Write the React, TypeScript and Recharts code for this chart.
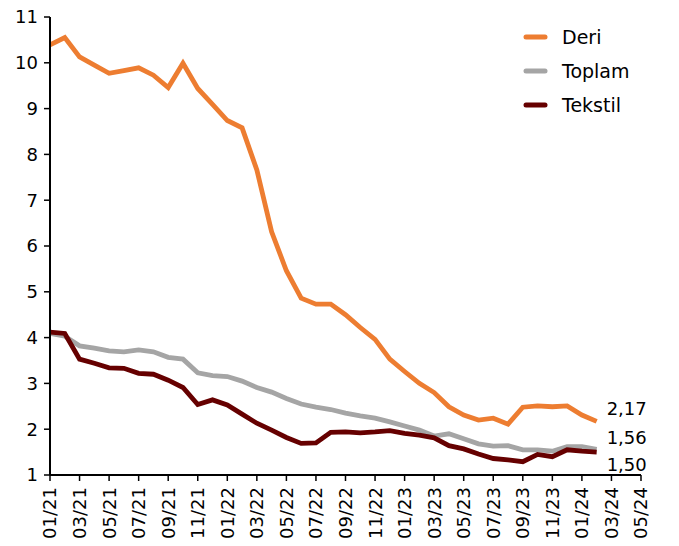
import React from "react";
import { LineChart, Line, XAxis, YAxis } from "recharts";

const months: string[] = [
  "01/21","02/21","03/21","04/21","05/21","06/21","07/21","08/21","09/21","10/21","11/21","12/21",
  "01/22","02/22","03/22","04/22","05/22","06/22","07/22","08/22","09/22","10/22","11/22","12/22",
  "01/23","02/23","03/23","04/23","05/23","06/23","07/23","08/23","09/23","10/23","11/23","12/23",
  "01/24","02/24","03/24","04/24","05/24",
];

const deri: number[] = [
  10.39, 10.55, 10.13, 9.95, 9.77, 9.83, 9.89, 9.73, 9.46, 9.99, 9.44, 9.09,
  8.74, 8.58, 7.66, 6.31, 5.46, 4.86, 4.73, 4.73, 4.5, 4.22, 3.96, 3.53,
  3.26, 3.0, 2.8, 2.49, 2.31, 2.2, 2.24, 2.11, 2.48, 2.51, 2.49, 2.51,
  2.31, 2.17,
];

const toplam: number[] = [
  4.09, 4.03, 3.82, 3.77, 3.71, 3.69, 3.73, 3.69, 3.57, 3.53, 3.23, 3.17,
  3.15, 3.05, 2.91, 2.81, 2.67, 2.55, 2.48, 2.43, 2.35, 2.29, 2.24, 2.16,
  2.07, 1.98, 1.85, 1.9, 1.79, 1.68, 1.63, 1.64, 1.55, 1.55, 1.52, 1.62,
  1.62, 1.56,
];

const tekstil: number[] = [
  4.12, 4.09, 3.53, 3.44, 3.34, 3.33, 3.22, 3.2, 3.07, 2.91, 2.54, 2.64,
  2.53, 2.33, 2.13, 1.98, 1.82, 1.69, 1.7, 1.93, 1.94, 1.92, 1.94, 1.97,
  1.91, 1.87, 1.81, 1.64, 1.57, 1.46, 1.36, 1.33, 1.29, 1.45, 1.4, 1.55,
  1.52, 1.5,
];

const yTicks: number[] = [1, 2, 3, 4, 5, 6, 7, 8, 9, 10, 11];

const endLabels: Record<string, string> = { deri: "2,17", toplam: "1,56", tekstil: "1,50" };

const data = months.map((m, i) => ({
  month: m,
  deri: deri[i],
  toplam: toplam[i],
  tekstil: tekstil[i],
}));

const FONT = "'DejaVu Sans', sans-serif";
const C_DERI = "#ED7D31";
const C_TOPLAM = "#A5A5A5";
const C_TEKSTIL = "#660000";

const lastIdx = deri.length - 1;

const makeLabel = (key: string, dy: number) => (props: any) => {
  const { x, y, index } = props;
  if (index !== lastIdx) return <g />;
  return (
    <text x={x + 10} y={y + dy} dominantBaseline="central" fontFamily={FONT} fontSize={18} fill="#000">
      {endLabels[key]}
    </text>
  );
};

const XTick = (props: any) => {
  const { x, y, payload } = props;
  return (
    <g transform={`translate(${x},${y})`}>
      <text transform="rotate(-90)" textAnchor="end" dy="0.36em" fontFamily={FONT} fontSize={18} fill="#000">
        {payload.value}
      </text>
    </g>
  );
};

const legendItems = [
  { name: "Deri", color: C_DERI },
  { name: "Toplam", color: C_TOPLAM },
  { name: "Tekstil", color: C_TEKSTIL },
];

const LegendOverlay = () => (
  <svg width={150} height={100} style={{ position: "absolute", left: 502, top: 20 }}>
    {legendItems.map((it, i) => (
      <g key={it.name}>
        <line x1={16} x2={35} y1={17 + i * 34} y2={17 + i * 34} stroke={it.color} strokeWidth={5} strokeLinecap="round" />
        <text x={52} y={17 + i * 34} dominantBaseline="central" fontFamily={FONT} fontSize={19} fill="#000">
          {it.name}
        </text>
      </g>
    ))}
  </svg>
);

export default function App() {
  return (
    <div style={{ position: "relative", width: 671, height: 546, marginTop: -8 }}>
      <LineChart
        width={671}
        height={546}
        data={data}
        margin={{ top: 17, right: 38, left: 0, bottom: 0 }}
      >
        <XAxis
          dataKey="month"
          interval={1}
          height={71}
          tickSize={6}
          tickMargin={6}
          tick={<XTick />}
          axisLine={{ stroke: "#000", strokeWidth: 2 }}
          tickLine={{ stroke: "#000", strokeWidth: 1.5 }}
        />
        <YAxis
          domain={[1, 11]}
          ticks={yTicks}
          width={42}
          tickSize={6}
          tickMargin={6}
          interval={0}
          tick={{ fontFamily: FONT, fontSize: 18, fill: "#000" }}
          axisLine={{ stroke: "#000", strokeWidth: 2 }}
          tickLine={{ stroke: "#000", strokeWidth: 1.5 }}
        />
        <Line
          dataKey="deri"
          name="Deri"
          stroke={C_DERI}
          strokeWidth={4.8}
          dot={false}
          isAnimationActive={false}
          label={makeLabel("deri", -13)}
        />
        <Line
          dataKey="toplam"
          name="Toplam"
          stroke={C_TOPLAM}
          strokeWidth={4.8}
          dot={false}
          isAnimationActive={false}
          label={makeLabel("toplam", -12)}
        />
        <Line
          dataKey="tekstil"
          name="Tekstil"
          stroke={C_TEKSTIL}
          strokeWidth={4.8}
          dot={false}
          isAnimationActive={false}
          label={makeLabel("tekstil", 12)}
        />
      </LineChart>
      <LegendOverlay />
    </div>
  );
}
